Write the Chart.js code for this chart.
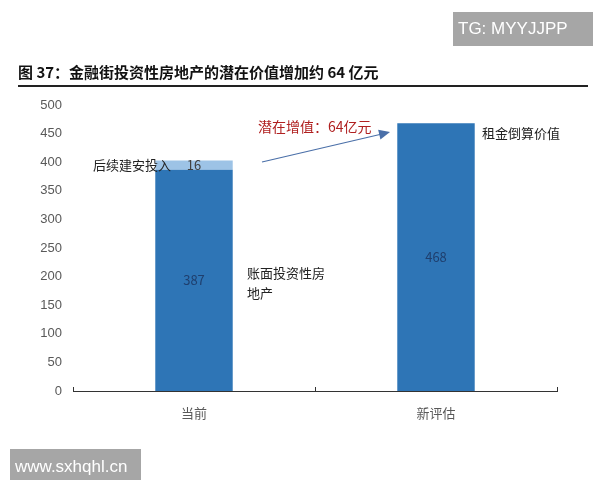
<!DOCTYPE html>
<html><head><meta charset="utf-8">
<script src="https://cdn.jsdelivr.net/npm/chart.js@4"></script>
<style>
html,body{margin:0;padding:0;background:#fff;}
#wrap{position:relative;width:600px;height:480px;}
canvas{position:absolute;left:0;top:0;}
</style></head>
<body><div id="wrap"><canvas id="c" width="600" height="480"></canvas></div>
<script>
const categories = ['当前', '新评估'];
const bookValues = [387, 468];
const addValues = [16, null];
const yTicks = [0, 50, 100, 150, 200, 250, 300, 350, 400, 450, 500];
const titleText = '图 37：金融街投资性房地产的潜在价值增加约 64 亿元';

const CJK = '"Noto Sans CJK SC", "Noto Sans", sans-serif';

const overlay = {
  id: 'overlay',
  afterDraw(chart) {
    const ctx = chart.ctx;
    const x = chart.scales.x, y = chart.scales.y;
    ctx.save();
    // title
    ctx.fillStyle = '#111';
    ctx.font = 'bold 15px ' + CJK;
    ctx.textBaseline = 'middle';
    ctx.textAlign = 'left';
    ctx.fillText(titleText, 18, 72);
    ctx.fillStyle = '#222';
    ctx.fillRect(18, 85, 570, 2);

    // x axis ticks (upward)
    ctx.strokeStyle = '#333';
    ctx.lineWidth = 1;
    const p0 = x.getPixelForValue(0), p1 = x.getPixelForValue(1);
    const half = (p1 - p0) / 2;
    [p0 - half, p0 + half, p1 + half].forEach(px => {
      ctx.beginPath();
      ctx.moveTo(Math.round(px) + 0.5, y.bottom);
      ctx.lineTo(Math.round(px) + 0.5, y.bottom - 4);
      ctx.stroke();
    });

    // data labels
    ctx.font = '13px ' + CJK;
    ctx.textAlign = 'center';
    ctx.fillStyle = '#1F3F6E';
    bookValues.forEach((v, i) => {
      ctx.fillText(String(v), x.getPixelForValue(i), y.getPixelForValue(v / 2));
    });
    ctx.fillStyle = '#404040';
    ctx.fillText(String(addValues[0]), x.getPixelForValue(0), y.getPixelForValue(bookValues[0] + addValues[0] / 2));

    // annotations
    ctx.textAlign = 'left';
    ctx.fillStyle = '#222';
    ctx.font = '13px ' + CJK;
    ctx.fillText('后续建安投入', 93, y.getPixelForValue(bookValues[0] + addValues[0] / 2));
    ctx.fillText('账面投资性房', 247, 273);
    ctx.fillText('地产', 247, 293);
    ctx.fillText('租金倒算价值', 482, 133);
    ctx.fillStyle = '#B02020';
    ctx.font = '14px ' + CJK;
    ctx.fillText('潜在增值：64亿元', 258, 127);

    // arrow
    const ax0 = 262, ay0 = 162, ax1 = 390, ay1 = 132;
    ctx.strokeStyle = '#4A6FA8';
    ctx.fillStyle = '#4A6FA8';
    ctx.lineWidth = 1.2;
    ctx.beginPath();
    ctx.moveTo(ax0, ay0);
    ctx.lineTo(ax1 - 8, ay1 + 2);
    ctx.stroke();
    const ang = Math.atan2(ay1 - ay0, ax1 - ax0);
    ctx.beginPath();
    ctx.moveTo(ax1, ay1);
    ctx.lineTo(ax1 - 11 * Math.cos(ang) + 5 * Math.sin(ang), ay1 - 11 * Math.sin(ang) - 5 * Math.cos(ang));
    ctx.lineTo(ax1 - 11 * Math.cos(ang) - 5 * Math.sin(ang), ay1 - 11 * Math.sin(ang) + 5 * Math.cos(ang));
    ctx.closePath();
    ctx.fill();

    // watermarks
    ctx.fillStyle = '#A6A6A6';
    ctx.fillRect(453, 12, 140, 34);
    ctx.fillRect(10, 449, 131, 35);
    ctx.fillStyle = '#fff';
    ctx.font = '17px "Liberation Sans", Arial, sans-serif';
    ctx.textBaseline = 'middle';
    ctx.fillText('TG: MYYJJPP', 458, 29);
    ctx.fillText('www.sxhqhl.cn', 15, 467);
    ctx.restore();
  }
};

new Chart(document.getElementById('c'), {
  type: 'bar',
  data: {
    labels: categories,
    datasets: [
      { label: '账面', data: bookValues, backgroundColor: '#2E75B6', barPercentage: 0.32, categoryPercentage: 1 },
      { label: '后续', data: addValues, backgroundColor: '#9DC3E6', barPercentage: 0.32, categoryPercentage: 1 }
    ]
  },
  options: {
    responsive: false,
    animation: false,
    layout: { padding: { left: 0, right: 43, top: 105, bottom: 0 } },
    plugins: { legend: { display: false }, tooltip: { enabled: false } },
    scales: {
      x: {
        stacked: true,
        grid: { display: false },
        border: { display: true, color: '#333', width: 1 },
        ticks: { color: '#595959', font: { size: 13, family: CJK }, padding: 6 },
        afterFit(s) { s.height = 89; }
      },
      y: {
        stacked: true,
        min: 0, max: 500,
        afterBuildTicks(s) { s.ticks = yTicks.map(v => ({ value: v })); },
        grid: { display: false, drawTicks: false },
        border: { display: false },
        ticks: { color: '#595959', font: { size: 13, family: '"Liberation Sans", Arial, sans-serif' }, padding: 11 },
        afterFit(s) { s.width = 73; }
      }
    }
  },
  plugins: [overlay]
});
</script></body></html>
